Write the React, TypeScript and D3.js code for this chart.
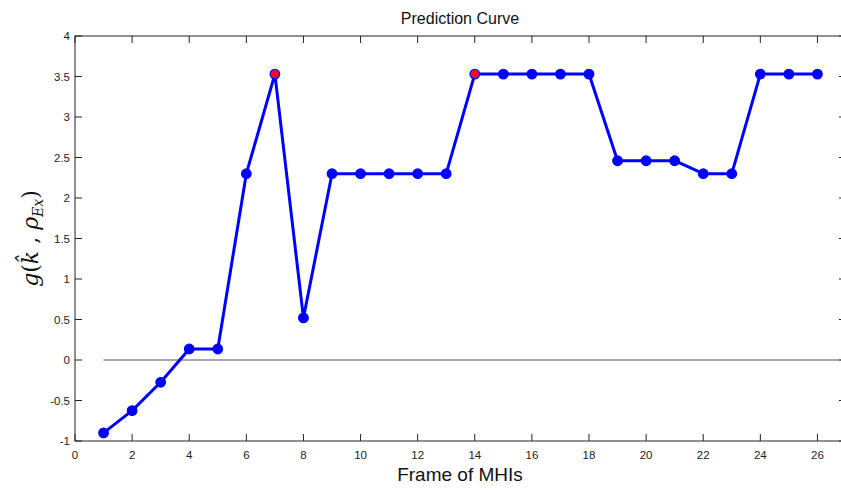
import React, { useEffect, useRef } from 'react'
import * as d3 from 'd3'

const FRAMES = d3.range(1, 27)
const SCORES = [
  -0.9, -0.625, -0.275, 0.136, 0.136, 2.3, 3.53, 0.52, 2.3, 2.3, 2.3, 2.3, 2.3,
  3.53, 3.53, 3.53, 3.53, 3.53, 2.46, 2.46, 2.46, 2.3, 2.3, 3.53, 3.53, 3.53,
]
const HIGHLIGHT = [7, 14]
const X_TICKS = d3.range(0, 27, 2)
const Y_TICKS = [-1, -0.5, 0, 0.5, 1, 1.5, 2, 2.5, 3, 3.5, 4]

export default function App() {
  const svgRef = useRef<SVGSVGElement>(null)

  useEffect(() => {
    if (!svgRef.current) return
    const W = 841
    const H = 490
    const margin = { top: 36, right: -5, bottom: 49, left: 75 }
    const w = W - margin.left - margin.right
    const h = H - margin.top - margin.bottom

    const svg = d3.select(svgRef.current)
    svg.selectAll('*').remove()

    const g = svg.append('g').attr('transform', `translate(${margin.left},${margin.top})`)

    const x = d3.scaleLinear().domain([0, 27]).range([0, w])
    const y = d3.scaleLinear().domain([-1, 4]).range([h, 0])

    const font = 'Arial, "Liberation Sans", sans-serif'

    // box + inward ticks
    g.append('rect')
      .attr('width', w)
      .attr('height', h)
      .attr('fill', 'none')
      .attr('stroke', '#222')
      .attr('stroke-width', 1)

    const tk = 7
    X_TICKS.forEach((t) => {
      g.append('line').attr('x1', x(t)).attr('x2', x(t)).attr('y1', h).attr('y2', h - tk).attr('stroke', '#222')
      g.append('line').attr('x1', x(t)).attr('x2', x(t)).attr('y1', 0).attr('y2', tk).attr('stroke', '#222')
      g.append('text')
        .attr('x', x(t))
        .attr('y', h + 18)
        .attr('text-anchor', 'middle')
        .attr('font-family', font)
        .attr('font-size', 11.5)
        .attr('fill', '#222')
        .text(t)
    })
    Y_TICKS.forEach((t) => {
      g.append('line').attr('x1', 0).attr('x2', tk).attr('y1', y(t)).attr('y2', y(t)).attr('stroke', '#222')
      g.append('line').attr('x1', w).attr('x2', w - tk).attr('y1', y(t)).attr('y2', y(t)).attr('stroke', '#222')
      g.append('text')
        .attr('x', -5)
        .attr('y', y(t))
        .attr('dy', '0.35em')
        .attr('text-anchor', 'end')
        .attr('font-family', font)
        .attr('font-size', 11.5)
        .attr('fill', '#222')
        .text(t)
    })

    // zero line
    g.append('line')
      .attr('x1', x(1))
      .attr('x2', x(27))
      .attr('y1', y(0))
      .attr('y2', y(0))
      .attr('stroke', '#555')
      .attr('stroke-width', 1.2)

    const data = FRAMES.map((f, i) => ({ f, v: SCORES[i] }))

    const line = d3
      .line<{ f: number; v: number }>()
      .x((d) => x(d.f))
      .y((d) => y(d.v))

    g.append('path')
      .datum(data)
      .attr('fill', 'none')
      .attr('stroke', '#0000ff')
      .attr('stroke-width', 3)
      .attr('stroke-linejoin', 'round')
      .attr('d', line)

    g.selectAll('circle.pt')
      .data(data)
      .enter()
      .append('circle')
      .attr('class', 'pt')
      .attr('cx', (d) => x(d.f))
      .attr('cy', (d) => y(d.v))
      .attr('r', 4.8)
      .attr('fill', (d) => (HIGHLIGHT.includes(d.f) ? '#e8102a' : '#0000ff'))
      .attr('stroke', '#0000ff')
      .attr('stroke-width', 1.2)

    // title + labels
    svg.append('text')
      .attr('x', 460)
      .attr('y', 24)
      .attr('text-anchor', 'middle')
      .attr('font-family', font)
      .attr('font-size', 16)
      .attr('fill', '#111')
      .text('Prediction Curve')

    svg.append('text')
      .attr('x', 460)
      .attr('y', 481)
      .attr('text-anchor', 'middle')
      .attr('font-family', font)
      .attr('font-size', 19)
      .attr('fill', '#111')
      .text('Frame of MHIs')

    const yl = svg.append('text')
      .attr('transform', `translate(38,${margin.top + y(1.5)}) rotate(-90)`)
      .attr('text-anchor', 'middle')
      .attr('font-family', '"DejaVu Serif", "Liberation Serif", serif')
      .attr('font-size', 22)
      .attr('fill', '#111')
    yl.append('tspan').attr('font-style', 'italic').text('g')
    yl.append('tspan').text('(')
    yl.append('tspan').attr('font-style', 'italic').text('k\u0302')
    yl.append('tspan').text(' ,  ')
    yl.append('tspan').attr('font-style', 'italic').text('\u03c1')
    yl.append('tspan').attr('font-style', 'italic').attr('font-size', 14).attr('dy', 5).text('Ex')
    yl.append('tspan').attr('dy', -5).text(')')
  }, [])

  return (
    <div style={{ position: 'fixed', left: 0, top: 0, background: '#fff' }}>
      <svg ref={svgRef} width={841} height={490} style={{ display: 'block' }} />
    </div>
  )
}
